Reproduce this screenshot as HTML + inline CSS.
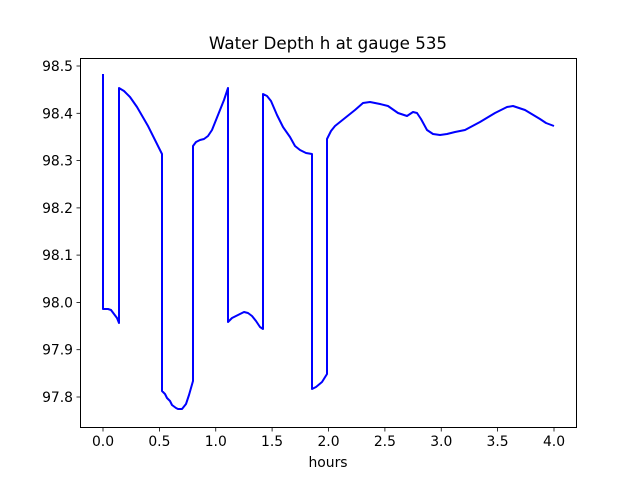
<!DOCTYPE html>
<html><head><meta charset="utf-8"><style>
html,body{margin:0;padding:0;background:#fff;}
text{font-family:"DejaVu Sans","Liberation Sans",sans-serif;font-size:13.9px;fill:#000;}
</style></head><body>
<svg width="640" height="480" viewBox="0 0 640 480" xmlns="http://www.w3.org/2000/svg">
<rect width="640" height="480" fill="#fff"/>
<path d="M103,74 L103,309 L108,309 L111,310 L114,314 L117,318 L119,323 L119,88 L124,91 L130,97 L137,107 L148,126 L162,154 L162,391 L165,394 L167,398 L170,401 L172,405 L176,408 L178,409 L182,409 L186,404 L189,395 L193,381 L193,146 L196,142 L200,140 L204,139 L208,136 L212,130 L218,115 L224,100 L228,88 L228,322 L232,318 L236,316 L240,314 L244,312 L248,313 L252,316 L256,321 L260,327 L263,329 L263,94 L267,96 L271,101 L277,115 L283,127 L290,137 L295,146 L300,150 L306,153 L312,154 L312,389 L316,387 L322,382 L327,374 L327,139 L331,131 L335,126 L340,122 L345,118 L355,110 L363,103 L370,102 L380,104 L388,106 L398,113 L407,116 L413,112 L417,113 L421,119 L427,130 L433,134 L440,135 L447,134 L455,132 L465,130 L480,122 L495,113 L507,107 L513,106 L525,110 L540,119 L546,123 L554,126" fill="none" stroke="#0000ff" stroke-width="2" stroke-linejoin="round"/>
<rect x="80.5" y="58.5" width="496" height="369" fill="none" stroke="#000" stroke-width="1"/>
<g stroke="#000" stroke-width="0.8">
<line x1="103" y1="428" x2="103" y2="431.5"/><line x1="159.4" y1="428" x2="159.4" y2="431.5"/>
<line x1="215.75" y1="428" x2="215.75" y2="431.5"/><line x1="272.1" y1="428" x2="272.1" y2="431.5"/>
<line x1="328.5" y1="428" x2="328.5" y2="431.5"/><line x1="384.9" y1="428" x2="384.9" y2="431.5"/>
<line x1="441.25" y1="428" x2="441.25" y2="431.5"/><line x1="497.6" y1="428" x2="497.6" y2="431.5"/>
<line x1="554" y1="428" x2="554" y2="431.5"/>
<line x1="76.5" y1="66" x2="80" y2="66"/><line x1="76.5" y1="113.3" x2="80" y2="113.3"/>
<line x1="76.5" y1="160.6" x2="80" y2="160.6"/><line x1="76.5" y1="207.9" x2="80" y2="207.9"/>
<line x1="76.5" y1="255.1" x2="80" y2="255.1"/><line x1="76.5" y1="302.4" x2="80" y2="302.4"/>
<line x1="76.5" y1="349.7" x2="80" y2="349.7"/><line x1="76.5" y1="397" x2="80" y2="397"/>
</g>
<g text-anchor="middle">
<text x="103" y="446">0.0</text><text x="159.4" y="446">0.5</text><text x="215.75" y="446">1.0</text>
<text x="272.1" y="446">1.5</text><text x="328.5" y="446">2.0</text><text x="384.9" y="446">2.5</text>
<text x="441.25" y="446">3.0</text><text x="497.6" y="446">3.5</text><text x="554" y="446">4.0</text>
<text x="328" y="467">hours</text>
<text x="328" y="49" style="font-size:16.7px">Water Depth h at gauge 535</text>
</g>
<g text-anchor="end">
<text x="73" y="71">98.5</text><text x="73" y="118.3">98.4</text><text x="73" y="165.6">98.3</text>
<text x="73" y="212.9">98.2</text><text x="73" y="260.1">98.1</text><text x="73" y="307.4">98.0</text>
<text x="73" y="354.7">97.9</text><text x="73" y="402">97.8</text>
</g>
</svg>
</body></html>
